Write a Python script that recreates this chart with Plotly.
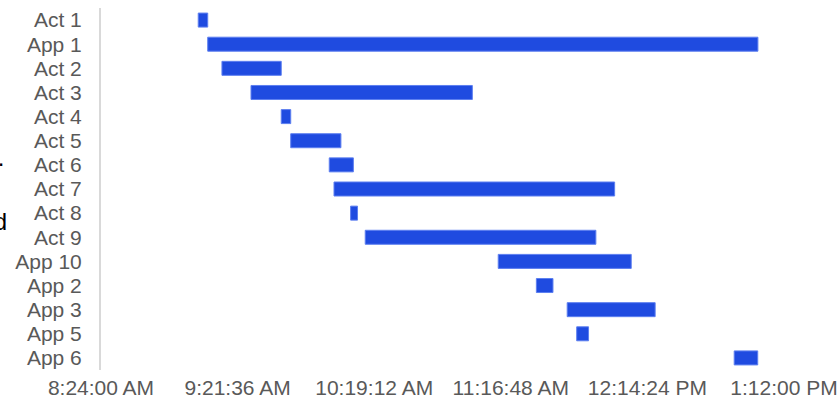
import plotly.graph_objects as go
from datetime import datetime

tasks = ["Act 1", "App 1", "Act 2", "Act 3", "Act 4", "Act 5", "Act 6", "Act 7",
         "Act 8", "Act 9", "App 10", "App 2", "App 3", "App 5", "App 6"]
starts = ["09:05:00", "09:09:00", "09:15:00", "09:27:15", "09:40:00", "09:44:00", "10:00:15",
          "10:02:15", "10:09:15", "10:15:25", "11:11:30", "11:27:35", "11:40:35", "11:44:35", "12:51:00"]
ends = ["09:09:00", "13:01:00", "09:40:00", "11:00:35", "09:44:00", "10:05:10", "10:10:25",
        "12:00:35", "10:12:10", "11:52:40", "12:07:35", "11:34:35", "12:17:40", "11:49:35", "13:00:55"]
tick_vals = ["08:24:00", "09:21:36", "10:19:12", "11:16:48", "12:14:24", "13:12:00"]
tick_text = ["8:24:00 AM", "9:21:36 AM", "10:19:12 AM", "11:16:48 AM", "12:14:24 PM", "1:12:00 PM"]

DAY = "2024-01-01 "
def ts(s):
    return datetime.strptime(DAY + s, "%Y-%m-%d %H:%M:%S")

base = [ts(s) for s in starts]
dur = [(ts(e) - ts(s)).total_seconds() * 1000 for s, e in zip(starts, ends)]

FONT = "Liberation Sans"

fig = go.Figure()
fig.add_trace(go.Bar(
    y=tasks, x=dur, base=base, orientation="h",
    marker=dict(color="#1f4be0", line=dict(color="#5d7ff0", width=1)),
    width=0.58, showlegend=False, hoverinfo="skip",
))

fig.update_layout(
    width=840, height=407,
    margin=dict(l=101, r=56, t=8, b=37, autoexpand=False),
    paper_bgcolor="white", plot_bgcolor="white",
    font=dict(family=FONT, size=21, color="#595959"),
)

fig.update_xaxes(
    type="date",
    range=[ts(tick_vals[0]), ts(tick_vals[-1])],
    tickmode="array",
    tickvals=[ts(t) for t in tick_vals], ticktext=tick_text,
    showgrid=False, zeroline=False, showline=False, ticks="",
    ticklabelstandoff=3, automargin=False,
)
fig.update_yaxes(
    type="category", categoryorder="array", categoryarray=tasks,
    tickmode="array", tickvals=tasks, ticktext=tasks,
    autorange="reversed",
    showgrid=False, zeroline=False, showline=True, linecolor="#d9d9d9", linewidth=2,
    ticks="", ticklabelstandoff=13, automargin=False,
)

# texts cut off at the left edge, as in the reference
fig.add_annotation(text="End.", xref="paper", yref="paper", x=-101/683 + 6/683, y=1 - (157 - 8)/362,
                   xanchor="right", yanchor="middle", showarrow=False,
                   font=dict(family=FONT, size=24, color="#000000"))
fig.add_annotation(text="Planned", xref="paper", yref="paper", x=-101/683 + 9/683, y=1 - (221 - 8)/362,
                   xanchor="right", yanchor="middle", showarrow=False,
                   font=dict(family=FONT, size=24, color="#000000"))

fig.write_html("out.html")
